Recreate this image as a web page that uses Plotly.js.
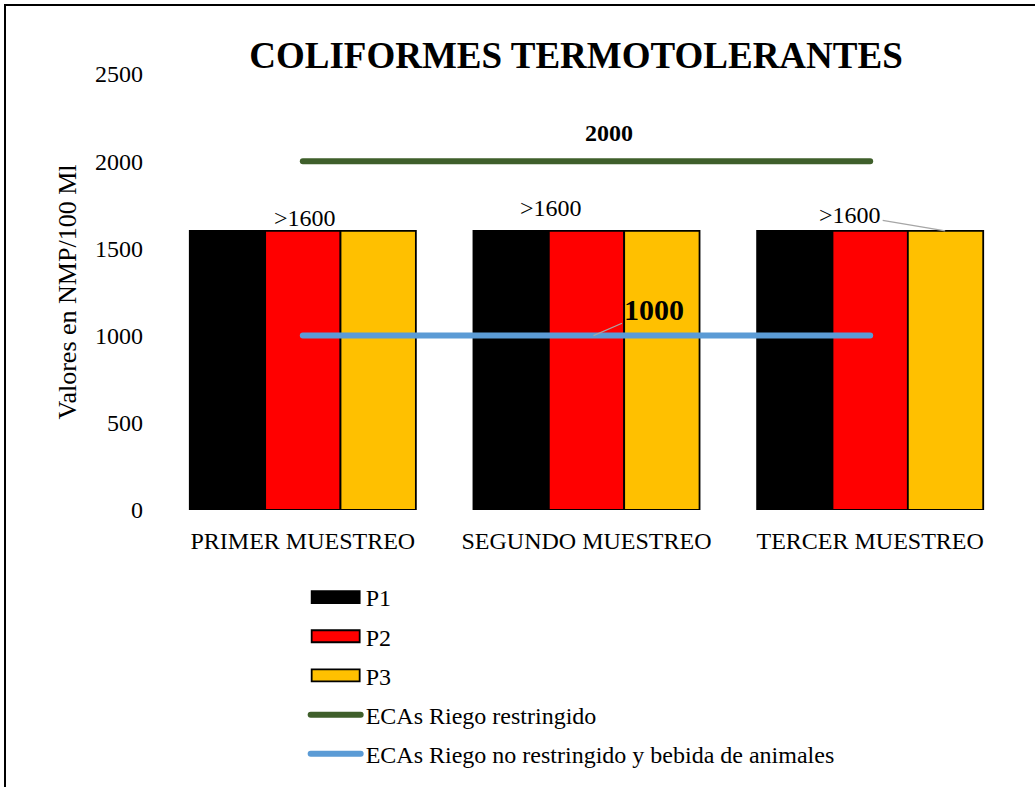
<!DOCTYPE html>
<html>
<head>
<meta charset="utf-8">
<script src="https://cdn.plot.ly/plotly-3.0.1.min.js"></script>
<style>
  html, body { margin: 0; padding: 0; background: #fff; overflow: hidden; }
  #wrap { position: relative; width: 1035px; height: 787px; }
  #chart { position: absolute; left: 0; top: 0; width: 1035px; height: 787px; }
  #frame { position: absolute; left: 4px; top: 4px; width: 1100px; height: 900px;
           border: 2px solid #000; pointer-events: none; box-sizing: border-box; }
</style>
</head>
<body>
<div id="wrap">
  <div id="chart"></div>
  <div id="frame"></div>
</div>
<script>
// ---- data ----
const categories = ["PRIMER MUESTREO", "SEGUNDO MUESTREO", "TERCER MUESTREO"];
const p1Values = [1600, 1600, 1600];
const p2Values = [1600, 1600, 1600];
const p3Values = [1600, 1600, 1600];
const ecaRestringido = [2000, 2000, 2000];
const ecaNoRestringido = [1000, 1000, 1000];
const seriesNames = ["P1", "P2", "P3", "ECAs Riego restringido", "ECAs Riego no restringido y bebida de animales"];
const barLabels = [">1600", ">1600", ">1600"];
const yTicks = [0, 500, 1000, 1500, 2000, 2500];

const FONT = "Liberation Serif, Times New Roman, serif";

function barTrace(name, vals, color, grp) {
  return {
    type: "bar", name: name, x: categories, y: vals,
    marker: { color: color, line: { color: "#000000", width: 1.8 } },
    legendgroup: grp, hoverinfo: "skip"
  };
}

const traces = [
  barTrace(seriesNames[0], p1Values, "#000000", "g1"),
  barTrace(seriesNames[1], p2Values, "#FF0000", "g2"),
  barTrace(seriesNames[2], p3Values, "#FFC000", "g3"),
  { type: "scatter", mode: "lines", name: seriesNames[3], x: categories, y: ecaRestringido,
    line: { color: "#3F5F2B", width: 6 }, legendgroup: "g4", hoverinfo: "skip" },
  { type: "scatter", mode: "lines", name: seriesNames[4], x: categories, y: ecaNoRestringido,
    line: { color: "#5B9BD5", width: 6 }, legendgroup: "g5", hoverinfo: "skip" }
];

const annotations = [
  { x: categories[0], y: p2Values[0], text: barLabels[0], showarrow: false,
    xanchor: "center", yanchor: "bottom", xshift: 2, yshift: -2,
    font: { family: FONT, size: 24, color: "#000" } },
  { x: categories[1], y: p1Values[1], text: barLabels[1], showarrow: false,
    xanchor: "center", yanchor: "bottom", xshift: -36, yshift: 8,
    font: { family: FONT, size: 24, color: "#000" } },
  { x: categories[2], y: p3Values[2], text: barLabels[2], showarrow: true,
    arrowhead: 0, arrowwidth: 1.2, arrowcolor: "#A6A6A6", xshift: 75,
    ax: -95, ay: -16, font: { family: FONT, size: 24, color: "#000" } },
  { x: categories[1], y: ecaRestringido[1], text: "<b>" + ecaRestringido[1] + "</b>", showarrow: false,
    xanchor: "center", yanchor: "middle", xshift: 22, yshift: 28,
    font: { family: FONT, size: 24, color: "#000" } },
  { x: categories[1], y: ecaNoRestringido[1], text: "<b>" + ecaNoRestringido[1] + "</b>", showarrow: true,
    arrowhead: 0, arrowwidth: 1.2, arrowcolor: "#A6A6A6", xshift: 7,
    ax: 60, ay: -26, font: { family: FONT, size: 30, color: "#000" } }
];

const layout = {
  width: 1035, height: 787,
  paper_bgcolor: "rgba(0,0,0,0)", plot_bgcolor: "rgba(0,0,0,0)",
  margin: { l: 161, r: 23, t: 74, b: 277, pad: 0, autoexpand: false },
  font: { family: FONT, size: 24, color: "#000" },
  title: { text: "<b>COLIFORMES TERMOTOLERANTES</b>", font: { family: FONT, size: 37, color: "#000" },
           x: 576 / 1035, xref: "container", xanchor: "center",
           y: 1 - 55 / 787, yref: "container", yanchor: "middle" },
  barmode: "group", bargap: 0.203, bargroupgap: 0,
  xaxis: { type: "category", showgrid: false, zeroline: false, showline: false, ticks: "",
           tickfont: { family: FONT, size: 24, color: "#000" }, ticklabelstandoff: 14,
           range: [-0.5, 2.5] },
  yaxis: { range: [0, 2500], tickvals: yTicks, showgrid: false, zeroline: false, showline: false,
           ticks: "", tickfont: { family: FONT, size: 24, color: "#000" }, ticklabelstandoff: 17,
           title: { text: "Valores en NMP/100 Ml", font: { family: FONT, size: 26, color: "#000" }, standoff: 10 } },
  showlegend: true,
  legend: { orientation: "v", x: 0.17, xanchor: "left", y: -0.149, yanchor: "top",
            font: { family: FONT, size: 24, color: "#000" }, traceorder: "grouped",
            tracegroupgap: 5, itemwidth: 50, bgcolor: "rgba(0,0,0,0)" },
  annotations: annotations
};

Plotly.newPlot("chart", traces, layout, { displayModeBar: false, staticPlot: true }).then(function (gd) {
  // widen the bar swatches in the legend to Excel-like 48x12 rectangles
  const items = gd.querySelectorAll(".legend .traces");
  items.forEach(function (it, i) {
    if (i < 3) {
      it.querySelectorAll(".legendpoints path").forEach(function (p) {
        p.setAttribute("d", "M24,6H-24V-6H24Z");
      });
    }
  });
  gd.querySelectorAll(".legend .legendlines path, .scatterlayer .js-line").forEach(function (p) {
    p.style.strokeLinecap = "round";
  });
});
</script>
</body>
</html>
